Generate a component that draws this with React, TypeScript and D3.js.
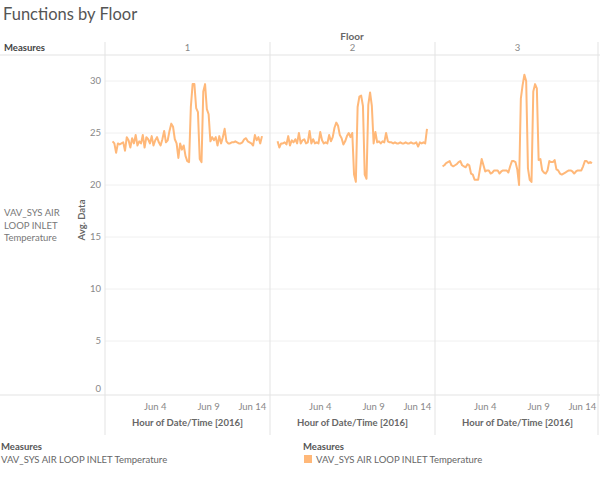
import * as d3 from "d3";

// hourly readings resampled every 4 hours, starting May 31 2016 00:00
const startTime = new Date(2016, 4, 31, 0);
const stepHours = 4;

const floors = ["1", "2", "3"];

const floor1 = [
  24.2, 24.0, 23.1, 24.0, 23.9, 24.0, 24.1, 23.3, 24.6, 24.3, 23.6, 24.5, 24.0, 24.8, 23.8,
  24.2, 24.0, 24.8, 23.6, 24.6, 24.4, 24.0, 24.7, 23.8, 24.3, 24.6, 24.1, 23.8, 24.4, 25.2,
  24.1, 24.3, 25.2, 25.9, 25.6, 24.4, 24.0, 22.6, 24.0, 23.4, 23.8, 22.8, 22.3, 22.2, 27.5,
  29.7, 29.7, 27.4, 27.0, 22.5, 22.2, 29.0, 29.7, 27.3, 26.8, 24.2, 24.6, 24.3, 24.6, 23.8,
  24.7, 24.0, 24.6, 25.4, 24.2, 24.0, 24.0, 24.1, 24.1, 24.2, 24.1, 24.0, 24.0, 24.1, 24.4,
  24.5, 24.2, 24.1, 24.0, 23.8, 24.8, 24.3, 24.6, 24.0, 24.7,
];

const floor2 = [
  24.2, 23.6, 24.0, 24.0, 24.1, 23.9, 24.7, 23.8, 24.3, 24.1, 24.4, 24.0, 25.0, 24.0, 24.3,
  24.4, 24.0, 24.1, 25.2, 24.0, 24.4, 24.0, 24.1, 24.0, 25.1, 24.3, 24.0, 24.1, 24.0, 24.8,
  24.2, 24.6, 25.5, 26.0, 25.7, 24.8, 24.5, 23.9, 24.2, 24.7, 25.0, 24.6, 25.0, 21.0, 20.3,
  27.5, 28.5, 28.6, 27.6, 21.0, 20.6, 27.7, 28.9, 27.6, 24.0, 25.1, 24.1, 24.2, 24.0, 24.2,
  24.1, 25.0, 24.2, 24.1, 24.1, 24.0, 24.1, 24.0, 24.0, 24.1, 24.0, 24.0, 24.1, 24.0, 24.0,
  24.1, 24.0, 24.0, 24.1, 23.7, 24.1, 24.0, 24.1, 24.0, 25.4,
];

const floor3 = [
  21.8, 21.9, 22.1, 22.2, 22.3, 21.9, 21.8, 21.9, 22.0, 22.2, 22.3, 21.9, 21.8, 21.7, 22.0,
  21.9, 21.1, 21.0, 20.5, 20.5, 20.5, 21.5, 22.5, 21.9, 21.3, 21.4, 21.4, 21.1, 21.2, 21.4,
  21.4, 21.4, 21.1, 21.3, 21.4, 21.4, 21.4, 21.2, 21.8, 22.3, 22.3, 22.2, 21.5, 20.0, 28.3,
  29.6, 30.6, 30.0, 21.6, 20.5, 20.3, 29.0, 29.7, 29.3, 22.4, 22.5, 21.4, 21.2, 21.1, 21.4,
  22.3, 22.2, 22.2, 22.4, 21.5, 21.4, 21.1, 21.0, 21.1, 21.2, 21.3, 21.4, 21.4, 21.3, 21.1,
  21.3, 21.4, 21.4, 21.4, 21.8, 22.3, 22.3, 22.1, 22.2, 22.1,
];

const series = [floor1, floor2, floor3];

const yTicks = [0, 5, 10, 15, 20, 25, 30];
const xTickDates = [new Date(2016, 5, 4), new Date(2016, 5, 9), new Date(2016, 5, 14)];
const xTickLabels = ["Jun 4", "Jun 9", "Jun 14"];

const measureName = "VAV_SYS AIR LOOP INLET Temperature";
const rowLabelLines = ["VAV_SYS AIR", "LOOP INLET", "Temperature"];

const FONT = "Lato, 'Open Sans', sans-serif";
const lineColor = "#ffb879";
const borderColor = "#e3e3e3";

const paneLeft = 105;
const paneWidth = 165;
const paneTop = 55;
const paneBottom = 395;

export default function App() {
  const yScale = d3.scaleLinear().domain([0, 30]).range([393, 81]);
  const xScale = d3
    .scaleTime()
    .domain([new Date(2016, 4, 30, 7), new Date(2016, 5, 14, 18)])
    .range([0, paneWidth]);

  const line = d3
    .line<number>()
    .x((_, i) => xScale(new Date(startTime.getTime() + i * stepHours * 3600 * 1000)))
    .y((d) => yScale(d));

  return (
    <svg
      width={600}
      height={478}
      style={{ position: "absolute", left: 0, top: 0, fontFamily: FONT }}
    >
      <rect width={600} height={478} fill="#fff" />
      <text x={3} y={20} fontSize={16.5} fill="#555">
        Functions by Floor
      </text>

      {/* header */}
      <text x={352} y={40} fontSize={10} fontWeight={700} fill="#666" textAnchor="middle">
        Floor
      </text>
      <text x={4} y={51} fontSize={9.5} fontWeight={700} fill="#444">
        Measures
      </text>
      {floors.map((f, i) => (
        <text
          key={f}
          x={paneLeft + paneWidth * i + paneWidth / 2}
          y={51}
          fontSize={9.5}
          fill="#888"
          textAnchor="middle"
        >
          {f}
        </text>
      ))}

      {/* gridlines */}
      {floors.map((f, i) => (
        <g key={"g" + f} transform={`translate(${paneLeft + paneWidth * i},0)`}>
          {yTicks
            .filter((t) => t > 0)
            .map((t) => (
              <line
                key={t}
                x1={0}
                x2={paneWidth}
                y1={yScale(t)}
                y2={yScale(t)}
                stroke="#f0f0f0"
                strokeWidth={1}
              />
            ))}
        </g>
      ))}

      {/* borders */}
      <line x1={0} x2={600} y1={paneTop} y2={paneTop} stroke={borderColor} />
      <line x1={0} x2={600} y1={paneBottom} y2={paneBottom} stroke={borderColor} />
      {[0, 1, 2, 3].map((i) => (
        <line
          key={i}
          x1={paneLeft + paneWidth * i - (i === 3 ? 2 : 0)}
          x2={paneLeft + paneWidth * i - (i === 3 ? 2 : 0)}
          y1={42}
          y2={435}
          stroke={borderColor}
        />
      ))}

      {/* row label */}
      {rowLabelLines.map((s, i) => (
        <text key={s} x={4} y={216 + i * 12.5} fontSize={9.5} fill="#777">
          {s}
        </text>
      ))}
      <text
        transform={`translate(85,220) rotate(-90)`}
        fontSize={9.5}
        fontWeight={700}
        fill="#666"
        textAnchor="middle"
      >
        Avg. Data
      </text>

      {/* y axis */}
      {yTicks.map((t) => (
        <text
          key={t}
          x={101}
          y={t === 0 ? yScale(t) - 4 : yScale(t)}
          dy="0.35em"
          fontSize={9.5}
          fill="#888"
          textAnchor="end"
        >
          {t}
        </text>
      ))}

      {/* lines */}
      {series.map((s, i) => (
        <g key={"s" + i} transform={`translate(${paneLeft + paneWidth * i},0)`}>
          <path
            d={line(s) || ""}
            fill="none"
            stroke={lineColor}
            strokeWidth={2}
            strokeLinejoin="round"
          />
          {xTickDates.map((d, k) => {
            const cx = xScale(d);
            const half = xTickLabels[k].length * 2.6;
            const x = Math.min(cx, paneWidth - 2 - half);
            return (
              <text
                key={k}
                x={x}
                y={410}
                fontSize={9.5}
                fill="#888"
                textAnchor="middle"
              >
                {xTickLabels[k]}
              </text>
            );
          })}
          <text
            x={paneWidth / 2}
            y={426}
            fontSize={9.5}
            fontWeight={700}
            fill="#666"
            textAnchor="middle"
          >
            Hour of Date/Time [2016]
          </text>
        </g>
      ))}

      {/* legends */}
      <text x={1} y={450} fontSize={9.5} fontWeight={700} fill="#555">
        Measures
      </text>
      <text x={1} y={463} fontSize={9.5} fill="#666">
        {measureName}
      </text>
      <text x={303} y={450} fontSize={9.5} fontWeight={700} fill="#555">
        Measures
      </text>
      <rect x={304} y={455} width={8} height={8} fill={lineColor} />
      <text x={316} y={463} fontSize={9.5} fill="#666">
        {measureName}
      </text>
    </svg>
  );
}
